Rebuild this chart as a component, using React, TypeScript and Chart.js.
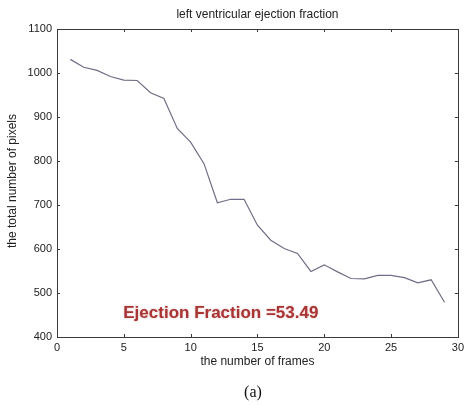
import React, { useEffect, useRef } from "react";
import { Chart, registerables } from "chart.js";

Chart.register(...registerables);

const frames = [1, 2, 3, 4, 5, 6, 7, 8, 9, 10, 11, 12, 13, 14, 15, 16, 17, 18, 19, 20, 21, 22, 23, 24, 25, 26, 27, 28, 29];
const pixels = [1031, 1013, 1006, 992, 984, 983, 955, 942, 874, 843, 794, 705, 713, 713, 654, 620, 601, 590, 549, 564, 548, 533, 532, 540, 540, 535, 523, 530, 479];
const xTicks = [0, 5, 10, 15, 20, 25, 30];
const yTicks = [400, 500, 600, 700, 800, 900, 1000, 1100];

const chartTitle = "left ventricular ejection fraction";
const xTitle = "the number of frames";
const yTitle = "the total number of pixels";
const annotationText = "Ejection Fraction =53.49";
const annotationPos = { x: 4.96, y: 454 };
const caption = "(a)";

const framePlugin = {
  id: "framePlugin",
  afterDraw(chart: any) {
    const { ctx, chartArea: a, scales } = chart;
    const xs = scales.x;
    const ys = scales.y;
    ctx.save();
    ctx.strokeStyle = "#3a3a3a";
    ctx.lineWidth = 1;
    ctx.strokeRect(Math.round(a.left) + 0.5, Math.round(a.top) + 0.5, Math.round(a.right - a.left), Math.round(a.bottom - a.top));
    ctx.beginPath();
    const tl = 3;
    xTicks.forEach((v) => {
      const px = Math.round(xs.getPixelForValue(v)) + 0.5;
      ctx.moveTo(px, a.bottom);
      ctx.lineTo(px, a.bottom - tl);
      ctx.moveTo(px, a.top);
      ctx.lineTo(px, a.top + tl);
    });
    yTicks.forEach((v) => {
      const py = Math.round(ys.getPixelForValue(v)) + 0.5;
      ctx.moveTo(a.left, py);
      ctx.lineTo(a.left + tl, py);
      ctx.moveTo(a.right, py);
      ctx.lineTo(a.right - tl, py);
    });
    ctx.stroke();

    ctx.fillStyle = "#222";
    ctx.textAlign = "center";
    ctx.textBaseline = "middle";
    ctx.font = "12px 'Liberation Sans', Arial, sans-serif";
    ctx.fillText(chartTitle, (a.left + a.right) / 2, 15);
    ctx.fillText(xTitle, (a.left + a.right) / 2, 362);
    ctx.save();
    ctx.translate(13, 181);
    ctx.rotate(-Math.PI / 2);
    ctx.fillText(yTitle, 0, 0);
    ctx.restore();

    ctx.font = "bold 17px 'Liberation Sans', Arial, sans-serif";
    ctx.textAlign = "left";
    ctx.fillStyle = "#a83434";
    ctx.shadowColor = "rgba(190,80,80,0.45)";
    ctx.shadowBlur = 2;
    ctx.fillText(annotationText, xs.getPixelForValue(annotationPos.x), ys.getPixelForValue(annotationPos.y));
    ctx.restore();
  },
};

export default function App() {
  const ref = useRef<HTMLCanvasElement>(null);
  useEffect(() => {
    document.body.style.margin = "0";
    const chart = new Chart(ref.current!, {
      type: "line",
      data: {
        datasets: [
          {
            data: frames.map((f, i) => ({ x: f, y: pixels[i] })),
            borderColor: "#6e6e86",
            borderWidth: 1.2,
            pointRadius: 0,
            tension: 0,
            fill: false,
          },
        ],
      },
      options: {
        animation: false,
        responsive: false,
        maintainAspectRatio: false,
        layout: { padding: { left: 0, right: 6, top: 29, bottom: 0 } },
        plugins: { legend: { display: false }, tooltip: { enabled: false }, title: { display: false } },
        scales: {
          x: {
            type: "linear",
            min: 0,
            max: 30,
            afterBuildTicks: (s: any) => {
              s.ticks = xTicks.map((v) => ({ value: v }));
            },
            afterFit: (s: any) => {
              s.height = 69;
            },
            grid: { display: false, drawTicks: false },
            border: { display: false },
            ticks: { padding: 4, color: "#222", font: { family: "'Liberation Sans', Arial, sans-serif", size: 11 }, maxRotation: 0, autoSkip: false, callback: (v: any) => String(v) },
          },
          y: {
            type: "linear",
            min: 400,
            max: 1100,
            afterBuildTicks: (s: any) => {
              s.ticks = yTicks.map((v) => ({ value: v }));
            },
            afterFit: (s: any) => {
              s.width = 57;
            },
            grid: { display: false, drawTicks: false },
            border: { display: false },
            ticks: { padding: 5, color: "#222", font: { family: "'Liberation Sans', Arial, sans-serif", size: 11 }, autoSkip: false, callback: (v: any) => String(v) },
          },
        },
      },
      plugins: [framePlugin],
    });
    return () => chart.destroy();
  }, []);
  return (
    <div style={{ position: "relative", width: 468, height: 406, background: "#fff" }}>
      <canvas ref={ref} width={468} height={406} style={{ display: "block" }} />
      <div
        style={{
          position: "absolute",
          left: 0,
          width: 506,
          top: 382,
          textAlign: "center",
          fontFamily: "'Liberation Serif', 'Times New Roman', serif",
          fontSize: 16,
          lineHeight: "20px",
          color: "#111",
        }}
      >
        {caption}
      </div>
    </div>
  );
}
